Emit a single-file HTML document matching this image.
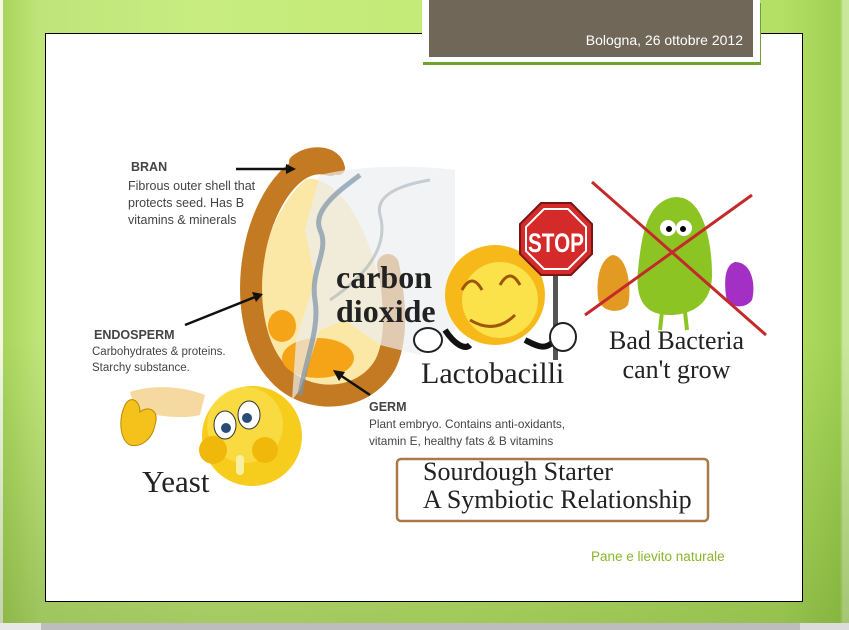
<!DOCTYPE html>
<html><head><meta charset="utf-8"><style>
html,body{margin:0;padding:0}
body{width:849px;height:630px;position:relative;overflow:hidden;font-family:"Liberation Sans",sans-serif;
background:linear-gradient(90deg,#f2f8e4 0,#f2f8e4 3px,#a8d45c 3px,#bfe57a 40px,#c8ec80 200px,#c2ea74 500px,#b4e066 780px,#9fd052 840px,#c9e79a 843px);}
.grad{position:absolute;left:0;top:0;width:849px;height:623px;background:linear-gradient(180deg,rgba(0,0,0,0) 0,rgba(0,0,0,0) 55%,rgba(60,100,10,0.25) 100%)}
.panel{position:absolute;left:45px;top:33px;width:756px;height:567px;background:#fff;border:1px solid #000}
.bot{position:absolute;left:0;top:623px;width:849px;height:7px;background:#bdbdbd}
.bot2{position:absolute;left:0;top:623px;width:41px;height:7px;background:#e8e8e8}
.bot3{position:absolute;left:800px;top:623px;width:49px;height:7px;background:#dcdcdc}
.hdr{position:absolute;left:422px;top:0;width:338px;height:62px;background:#fff;box-shadow:1px 3px 0 #6da52a}
.hdr div{position:absolute;left:7px;top:0;width:324px;height:57px;background:#706758;color:#fff;font-size:14px;text-align:right;box-sizing:border-box;padding:32px 10px 0 0}
.t{position:absolute;white-space:nowrap;color:#333}
.s{font-family:"Liberation Serif",serif;color:#222}
</style></head><body>
<div class="grad"></div>
<div class="panel"></div>
<div class="bot"></div><div class="bot2"></div><div class="bot3"></div>
<div class="hdr"><div>Bologna, 26 ottobre 2012</div></div>

<svg style="position:absolute;left:0;top:0" width="849" height="630">
 <!-- grain -->
 <path d="M305,180 C272,210 258,260 260,305 C263,360 295,390 330,390 C368,390 390,355 385,315 C380,280 372,245 355,215 C340,190 320,175 305,180Z" fill="#fbe8a6"/>
 <path d="M330,165 C300,155 270,190 257,240 C245,290 250,350 285,380 C315,405 365,400 385,365 C398,340 395,300 388,265" fill="none" stroke="#c47a22" stroke-width="22" stroke-linecap="round"/>
 <path d="M296,162 C310,150 335,152 338,168" fill="none" stroke="#c47a22" stroke-width="14" stroke-linecap="round"/>
 <ellipse cx="318" cy="358" rx="36" ry="20" fill="#f5a418"/>
 <ellipse cx="282" cy="326" rx="14" ry="16" fill="#f5a418"/>
 <!-- smoke -->
 <path d="M320,175 C360,165 420,165 455,170 L455,330 L420,355 L380,345 L345,320 L320,330 L300,390 L292,400 L296,340 L315,280 L305,230Z" fill="#eceef0" opacity="0.7"/>
 <path d="M300,395 C305,360 320,330 315,300 C310,270 330,250 320,230 C312,210 340,190 360,175" fill="none" stroke="#7a93a6" stroke-width="5" opacity="0.7"/>
 <path d="M330,300 C360,280 390,250 380,215 C375,195 400,185 430,180" fill="none" stroke="#9aa5ad" stroke-width="3" opacity="0.5"/>
 <!-- arrows -->
 <g stroke="#111" stroke-width="2.5" fill="#111">
  <line x1="236" y1="169" x2="288" y2="169"/><polygon points="296,169 286,164 286,174" stroke="none"/>
  <line x1="185" y1="325" x2="255" y2="297"/><polygon points="263,294 252,292 256,302" stroke="none"/>
  <line x1="166" y1="393" x2="161" y2="403"/><polygon points="162,412 156,401 166,403" stroke="none"/>
  <line x1="370" y1="395" x2="340" y2="375"/><polygon points="333,370 345,372 339,381" stroke="none"/>
 </g>
 <!-- yeast hand -->
 <path d="M130,392 C150,385 180,385 205,395 L200,415 C180,420 150,415 135,410Z" fill="#f6d9a0"/>
 <path d="M125,405 C130,395 140,400 140,412 C148,405 160,410 155,425 C152,440 140,448 130,445 C120,440 118,420 125,405Z" fill="#f4c21a" stroke="#b88a00" stroke-width="1"/>
 <!-- yeast face -->
 <circle cx="252" cy="436" r="50" fill="#f6cd1c"/>
 <circle cx="245" cy="425" r="38" fill="#fbe45a" opacity="0.6"/>
 <ellipse cx="225" cy="425" rx="11" ry="14" fill="#fff" stroke="#333"/><circle cx="226" cy="428" r="5" fill="#2a4a78"/>
 <ellipse cx="249" cy="415" rx="11" ry="14" fill="#fff" stroke="#333"/><circle cx="247" cy="418" r="5" fill="#2a4a78"/>
 <circle cx="213" cy="450" r="14" fill="#f1b80c"/><circle cx="265" cy="450" r="13" fill="#f1b80c"/>
 <rect x="236" y="455" width="8" height="20" rx="4" fill="#f8f0a0"/>
 <!-- lactobacilli -->
 <path d="M445,330 C455,345 465,350 470,345" stroke="#111" stroke-width="6" fill="none"/>
 <path d="M525,340 C535,345 545,352 555,340" stroke="#111" stroke-width="6" fill="none"/>
 <circle cx="495" cy="295" r="50" fill="#f7b81a"/>
 <circle cx="500" cy="300" r="38" fill="#fbe14a"/>
 <path d="M462,290 q10,-18 20,0 M500,285 q10,-18 20,0" stroke="#a0560a" stroke-width="3" fill="none"/>
 <path d="M470,320 q25,15 45,-5" stroke="#a0560a" stroke-width="3" fill="none"/>
 <rect x="553" y="270" width="5" height="90" fill="#555"/>
 <polygon points="541,203 571,203 592,224 592,254 571,275 541,275 520,254 520,224" fill="#d42a2a" stroke="#7a1515" stroke-width="2"/>
 <polygon points="544,209 568,209 586,227 586,251 568,269 544,269 526,251 526,227" fill="none" stroke="#fff" stroke-width="2"/>
 <text x="556" y="252" font-family="Liberation Sans" font-weight="bold" font-size="27" fill="#fff" text-anchor="middle" textLength="56" lengthAdjust="spacingAndGlyphs">STOP</text>
 <ellipse cx="428" cy="340" rx="14" ry="12" fill="#fff" stroke="#222" stroke-width="2"/>
 <ellipse cx="563" cy="337" rx="13" ry="14" fill="#fff" stroke="#222" stroke-width="2"/>
 <!-- bacteria -->
 <path d="M670,198 C700,190 712,235 712,275 C712,305 690,315 670,315 C645,315 635,300 638,270 C642,230 648,205 670,198Z" fill="#8cc424"/>
 <line x1="662" y1="312" x2="660" y2="330" stroke="#8cc424" stroke-width="4"/><line x1="685" y1="312" x2="687" y2="330" stroke="#8cc424" stroke-width="4"/>
 <circle cx="668" cy="228" r="8" fill="#fff"/><circle cx="684" cy="228" r="8" fill="#fff"/><circle cx="669" cy="229" r="3"/><circle cx="683" cy="229" r="3"/>
 <path d="M612,255 C628,255 632,290 628,305 C620,315 600,312 598,298 C596,278 600,260 612,255Z" fill="#e39a22"/>
 <path d="M735,262 C752,262 756,285 752,300 C745,310 728,308 726,296 C724,280 725,265 735,262Z" fill="#a32fc4"/>
 <line x1="592" y1="182" x2="766" y2="335" stroke="#c42a2a" stroke-width="3"/>
 <line x1="585" y1="315" x2="752" y2="195" stroke="#c42a2a" stroke-width="3"/>
 <!-- sourdough box -->
 <rect x="397" y="459" width="311" height="62" rx="4" fill="#fff" stroke="#a87a48" stroke-width="2.5"/>
</svg>

<div class="t" style="left:131px;top:160px;font-size:12.5px;font-weight:bold;color:#444">BRAN</div>
<div class="t" style="left:128px;top:178px;font-size:12.5px;line-height:17px;color:#444">Fibrous outer shell that<br>protects seed. Has B<br>vitamins &amp; minerals</div>
<div class="t" style="left:94px;top:328px;font-size:12.5px;font-weight:bold;color:#444">ENDOSPERM</div>
<div class="t" style="left:92px;top:344px;font-size:11.5px;line-height:16px;color:#444">Carbohydrates &amp; proteins.<br>Starchy substance.</div>
<div class="t" style="left:369px;top:400px;font-size:12.5px;font-weight:bold;color:#444">GERM</div>
<div class="t" style="left:369px;top:416px;font-size:11.8px;line-height:17px;color:#444">Plant embryo. Contains anti-oxidants,<br>vitamin E, healthy fats &amp; B vitamins</div>
<div class="t s" style="left:336px;top:260px;font-size:32px;font-weight:bold;line-height:34px">carbon<br>dioxide</div>
<div class="t s" style="left:142px;top:464px;font-size:31px">Yeast</div>
<div class="t s" style="left:421px;top:357px;font-size:30px">Lactobacilli</div>
<div class="t s" style="left:609px;top:326px;font-size:26px;line-height:29px;text-align:center">Bad Bacteria<br>can't grow</div>
<div class="t s" style="left:423px;top:458px;font-size:26px;line-height:28px">Sourdough Starter<br>A Symbiotic Relationship</div>
<div class="t" style="left:591px;top:549px;font-size:13.5px;color:#8ab52a">Pane e lievito naturale</div>
</body></html>
